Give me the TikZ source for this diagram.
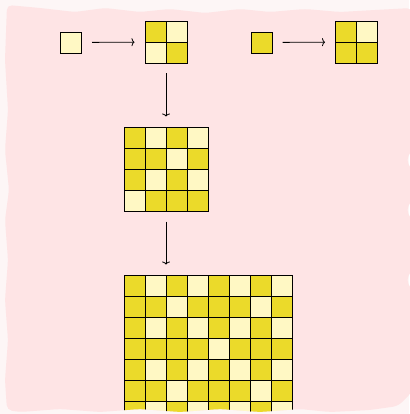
\documentclass[tikz,border=0pt]{standalone}
\usepackage{tikz}
\usetikzlibrary{positioning, arrows.meta, calc}
\definecolor{dkyel}{RGB}{235,218,42}
\definecolor{ltyel}{RGB}{255,248,196}
\definecolor{paper}{RGB}{254,228,229}
\definecolor{outside}{RGB}{253,246,246}
\tikzset{
  cell/.style={draw, line width=0.8pt, minimum size=21pt, inner sep=0pt, outer sep=0pt, anchor=north west},
  d cell/.style={cell, fill=dkyel},
  l cell/.style={cell, fill=ltyel},
  blk/.style={inner sep=0pt, outer sep=0pt, minimum size=#1},
  arr/.style={-{To[length=3pt, width=8pt]}, line width=0.8pt, shorten >=10.5pt, shorten <=10.5pt},
}
% rows of d/l cells, top-left corner at (#1,#2)
\newcommand{\cellgrid}[3]{%
  \foreach \rw [count=\i from 0] in {#3} {
    \foreach \c [count=\j from 0] in \rw
      \node[\c\space cell] at (#1+21*\j, #2+21*\i) {};
  }%
}

\begin{document}
\begin{tikzpicture}[x=1pt, y=-1pt]
\useasboundingbox (0,0) rectangle (409,414);
\fill[outside] (0,0) rectangle (409,414);
% torn sheet
\fill[paper, rounded corners=5pt, save path=\tornpath]
  (7,5) -- (40,8) -- (75,12) -- (105,8) -- (140,12) -- (170,9) -- (205,13) -- (240,9)
  -- (270,12) -- (305,9) -- (340,12) -- (375,10) -- (412,8)
  -- (412,150) -- (406,160) -- (412,170) -- (412,200) -- (406,210) -- (412,220)
  -- (412,270) -- (406,280) -- (412,290) -- (412,392) -- (398,406)
  -- (370,410) -- (330,412) -- (300,409) -- (260,412) -- (220,409) -- (180,412)
  -- (140,409) -- (100,412) -- (60,409) -- (20,412) -- (7,410)
  -- (5,380) -- (8,340) -- (5,300) -- (8,260) -- (5,220) -- (9,190) -- (5,150)
  -- (8,110) -- (5,60) -- cycle;

\node[l cell, anchor=center] (seedL) at (71,42.5) {};
\node[blk=42pt] (genL) at (166,42) {};
\cellgrid{145}{21}{{d,l},{l,d}}
\node[d cell, anchor=center] (seedD) at (261.5,42.5) {};
\node[blk=42pt] (genD) at (356.5,42) {};
\cellgrid{335.5}{21}{{d,l},{d,d}}

\node[blk=84pt] (gen2) at (166,169) {};
\cellgrid{124}{127}{{d,l,d,l},{d,d,l,d},{d,l,d,l},{l,d,d,d}}

\node[blk=168pt] (gen3) at (208,359) {};
\begin{scope}
\clip[use path=\tornpath];
\cellgrid{124}{275}{{d,l,d,l,d,l,d,l},{d,d,l,d,d,d,l,d},{d,l,d,l,d,l,d,l},{d,d,d,d,l,d,d,d},
  {d,l,d,l,d,l,d,l},{d,d,l,d,d,d,l,d},{d,l,d,l,d,l,d,l},{l,d,d,d,d,d,d,d}}
\end{scope}

\draw[arr] (seedL) -- (genL);
\draw[arr] (seedD) -- (genD);
\draw[arr] (genL) -- (gen2);
\draw[arr] (gen2.south) -- (gen2.south |- gen3.north);
\end{tikzpicture}
\end{document}
